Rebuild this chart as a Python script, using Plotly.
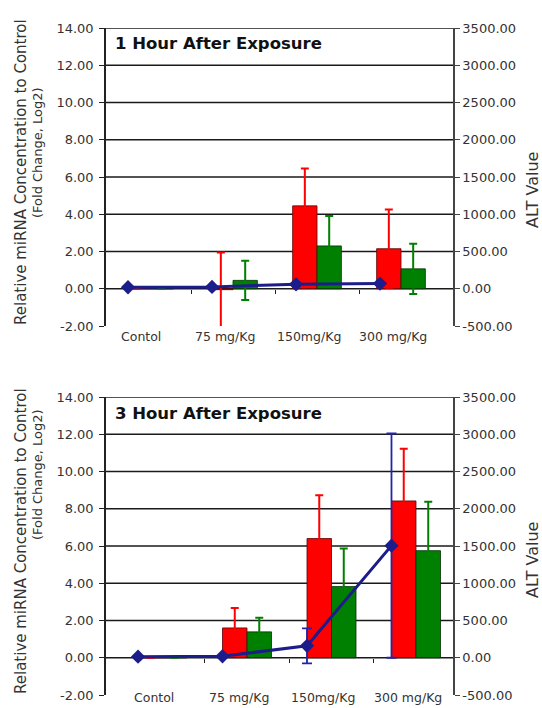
import plotly.graph_objects as go

W, H = 542, 708

# ---------------------------------------------------------------- data
categories = ["Contol", "75 mg/Kg", "150mg/Kg", "300 mg/Kg"]
fold_ticks = [-2, 0, 2, 4, 6, 8, 10, 12, 14]
alt_ticks = [-500, 0, 500, 1000, 1500, 2000, 2500, 3000, 3500]

# 1 hour after exposure
red_1h = [0.0, -0.05, 4.45, 2.15]
red_err_1h = [None, 2.0, 2.0, 2.1]
green_1h = [0.0, 0.45, 2.3, 1.07]
green_err_1h = [None, 1.05, 1.6, 1.35]
alt_1h = [20, 25, 60, 70]
alt_err_1h = [None, None, None, None]

# 3 hours after exposure
red_3h = [0.0, 1.6, 6.4, 8.42]
red_err_3h = [None, 1.07, 2.33, 2.8]
green_3h = [0.0, 1.39, 3.82, 5.75]
green_err_3h = [None, 0.76, 2.04, 2.63]
alt_3h = [15, 20, 160, 1505]
alt_err_3h = [None, None, 235, 1505]

# ---------------------------------------------------------------- style
FONT = "DejaVu Sans"
RED = "#ff0000"
GREEN = "#008000"
NAVY = "#1c1c8a"
BAR_W = 0.29


def px_x(p):
    return p / W


def px_y(p):
    return 1 - p / H


panels = [
    dict(title="1 Hour After Exposure", top=28, bottom=326, left=106, right=453,
         xrange=[-0.512, 3.619], alt_shift=-0.25,
         red=red_1h, red_err=red_err_1h, green=green_1h, green_err=green_err_1h,
         alt=alt_1h, alt_err=alt_err_1h, label_at_foot=False,
         title_y=43, lt1_y=172, lt2_y=153, rt_y=190),
    dict(title="3 Hour After Exposure", top=397, bottom=695, left=106, right=453,
         xrange=[-0.669, 3.438], alt_shift=-0.29,
         red=red_3h, red_err=red_err_3h, green=green_3h, green_err=green_err_3h,
         alt=alt_3h, alt_err=alt_err_3h, label_at_foot=True,
         title_y=413, lt1_y=541, lt2_y=475, rt_y=560),
]

fig = go.Figure()
layout = dict(
    width=W, height=H,
    margin=dict(l=0, r=0, t=0, b=0, pad=0, autoexpand=False),
    paper_bgcolor="white", plot_bgcolor="white",
    showlegend=False, barmode="overlay",
    font=dict(family=FONT, color="#222"),
)
shapes, annotations = [], []
xs = list(range(len(categories)))

for k, p in enumerate(panels):
    xa = "x" if k == 0 else f"x{k + 1}"
    ya = "y" if k == 0 else f"y{2 * k + 1}"
    ya2 = f"y{2 * k + 2}"
    xkey = "xaxis" if k == 0 else f"xaxis{k + 1}"
    ykey = "yaxis" if k == 0 else f"yaxis{2 * k + 1}"
    y2key = f"yaxis{2 * k + 2}"

    xd = [px_x(p["left"]), px_x(p["right"])]
    yd = [px_y(p["bottom"]), px_y(p["top"])]
    zero_pos = yd[0] + (0 - fold_ticks[0]) / (fold_ticks[-1] - fold_ticks[0]) * (yd[1] - yd[0])

    # miRNA fold change bars (left axis)
    fig.add_trace(go.Bar(
        x=xs, y=p["red"], offset=-BAR_W, width=BAR_W, xaxis=xa, yaxis=ya,
        marker=dict(color=RED, line=dict(color="#5a0000", width=0.8)),
        error_y=dict(type="data", array=p["red_err"], color=RED, thickness=2, width=4),
    ))
    fig.add_trace(go.Bar(
        x=xs, y=p["green"], offset=0, width=BAR_W, xaxis=xa, yaxis=ya,
        marker=dict(color=GREEN, line=dict(color="#003000", width=0.8)),
        error_y=dict(type="data", array=p["green_err"], color=GREEN, thickness=2, width=4),
    ))
    # ALT line (right axis)
    has_alt_err = any(v is not None for v in p["alt_err"])
    fig.add_trace(go.Scatter(
        x=[x + p["alt_shift"] for x in xs], y=p["alt"], xaxis=xa, yaxis=ya2,
        mode="lines+markers",
        line=dict(color=NAVY, width=3),
        marker=dict(symbol="diamond", size=11, color=NAVY),
        error_y=dict(type="data", array=p["alt_err"], color="#2424a8",
                     thickness=1.8, width=5, visible=has_alt_err),
    ))

    # category axis sits on the zero line, ticks between groups
    boundaries = [x + 0.5 for x in xs[:-1]]
    layout[xkey] = dict(
        domain=xd, range=p["xrange"], anchor="free", position=zero_pos,
        showline=False, showgrid=False, zeroline=False, automargin=False,
        tickmode="array", tickvals=boundaries, showticklabels=False,
        ticks="outside", ticklen=4, tickwidth=1, tickcolor="#222",
        fixedrange=True,
    )
    layout[ykey] = dict(
        domain=yd, range=[fold_ticks[0], fold_ticks[-1]], anchor=xa, automargin=False,
        tickmode="array", tickvals=fold_ticks,
        ticktext=[f"{v:.2f}" for v in fold_ticks],
        ticks="outside", ticklen=5, tickwidth=1.2, tickcolor="#222",
        ticklabelstandoff=3,
        showline=True, linecolor="#222", linewidth=1.5,
        showgrid=False, zeroline=False,
        tickfont=dict(family=FONT, size=13, color="#333"),
    )
    layout[y2key] = dict(
        overlaying=ya, side="right", anchor=xa, automargin=False,
        range=[alt_ticks[0], alt_ticks[-1]],
        tickmode="array", tickvals=alt_ticks,
        ticktext=[f"{v:.2f}" for v in alt_ticks],
        ticks="outside", ticklen=5, tickwidth=1.2, tickcolor="#444",
        showline=True, linecolor="#444", linewidth=1.5,
        showgrid=False, zeroline=False,
        tickfont=dict(family=FONT, size=13, color="#333"),
    )

    # horizontal rules at every labelled value above the axis floor
    for v in fold_ticks[1:]:
        shapes.append(dict(
            type="line", xref=f"{xa} domain", x0=0, x1=1, yref=ya, y0=v, y1=v,
            line=dict(color="#1a1a1a", width=1.5), layer="below",
        ))

    # category labels under the plot area
    for i, name in enumerate(categories):
        if p["label_at_foot"]:
            pos = dict(yref="paper", y=0, yanchor="bottom", yshift=1)
        else:
            pos = dict(yref="paper", y=yd[0], yanchor="top", yshift=-1)
        annotations.append(dict(
            text=name, xref=xa, x=i - 0.1, xanchor="center", showarrow=False,
            font=dict(family=FONT, size=12.5, color="#333"), **pos,
        ))

    annotations.append(dict(
        text=f"<b>{p['title']}</b>", xref="paper", x=px_x(113), yref="paper",
        y=px_y(p["title_y"]), xanchor="left", yanchor="middle", showarrow=False,
        font=dict(family=FONT, size=16.5, color="#111"),
    ))
    annotations.append(dict(
        text="Relative miRNA Concentration to Control", textangle=-90,
        xref="paper", x=px_x(21), yref="paper", y=px_y(p["lt1_y"]),
        xanchor="center", yanchor="middle", showarrow=False,
        font=dict(family=FONT, size=15, color="#333"),
    ))
    annotations.append(dict(
        text="(Fold Change, Log2)", textangle=-90,
        xref="paper", x=px_x(38), yref="paper", y=px_y(p["lt2_y"]),
        xanchor="center", yanchor="middle", showarrow=False,
        font=dict(family=FONT, size=13, color="#333"),
    ))
    annotations.append(dict(
        text="ALT Value", textangle=-90,
        xref="paper", x=px_x(532), yref="paper", y=px_y(p["rt_y"]),
        xanchor="center", yanchor="middle", showarrow=False,
        font=dict(family=FONT, size=16, color="#333"),
    ))

layout["shapes"] = shapes
layout["annotations"] = annotations
fig.update_layout(**layout)

fig.write_html("out.html")
